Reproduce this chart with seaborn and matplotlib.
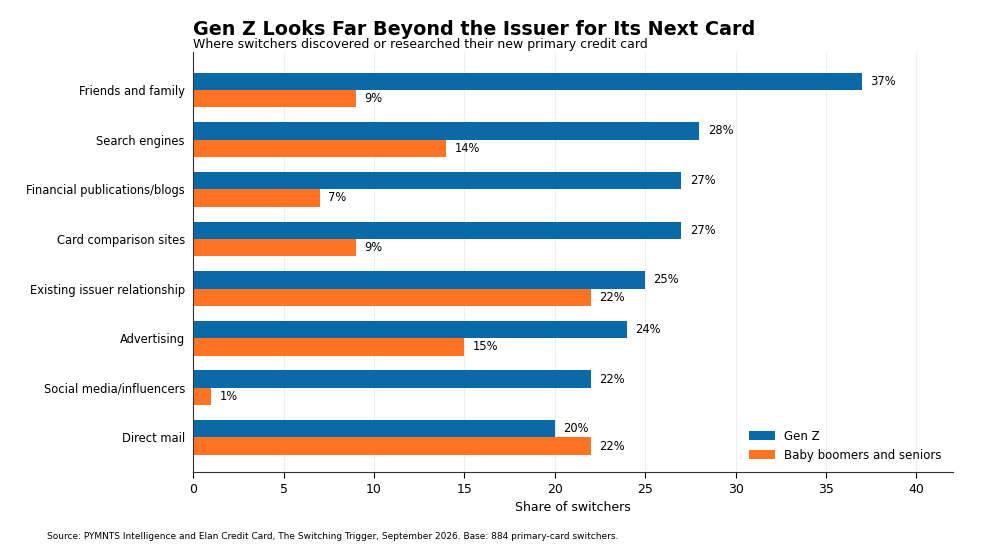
import pandas as pd
import matplotlib.pyplot as plt
import seaborn as sns

categories = ["Friends and family", "Search engines", "Financial publications/blogs",
              "Card comparison sites", "Existing issuer relationship", "Advertising",
              "Social media/influencers", "Direct mail"]
gen_z = [37, 28, 27, 27, 25, 24, 22, 20]
boomers = [9, 14, 7, 9, 22, 15, 1, 22]
groups = ["Gen Z", "Baby boomers and seniors"]

df = pd.DataFrame({
    "category": categories * 2,
    "value": gen_z + boomers,
    "group": [groups[0]] * len(categories) + [groups[1]] * len(categories),
})

sns.set_style("white")
plt.rcParams['font.family'] = ['DejaVu Sans']
plt.rcParams['text.color'] = 'black'
plt.rcParams['axes.labelcolor'] = 'black'
plt.rcParams['xtick.color'] = 'black'
plt.rcParams['ytick.color'] = 'black'

fig = plt.figure(figsize=(9.81, 5.51), dpi=100)
ax = fig.add_axes([0.197, 0.143, 0.774, 0.763])

sns.barplot(data=df, y="category", x="value", hue="group", orient="h",
            palette=["#0a6aa8", "#ff7322"], width=0.7, ax=ax, saturation=1,
            linewidth=0, gap=0)

for cont in ax.containers:
    ax.bar_label(cont, labels=[f"{v:.0f}%" for v in cont.datavalues], padding=6, fontsize=8.3)

ax.set_xlim(0, 42)
ax.set_ylim(7.7, -0.77)
ax.set_xticks(range(0, 45, 5))
ax.xaxis.grid(True, color="#eeeeee", linewidth=0.8)
ax.set_axisbelow(True)
ax.set_xlabel("Share of switchers", fontsize=9)
ax.set_ylabel("")
ax.tick_params(axis="y", labelsize=8.3, length=0, pad=6)
ax.tick_params(axis="x", labelsize=9, length=4, bottom=True)
for s in ["top", "right"]:
    ax.spines[s].set_visible(False)
for s in ["left", "bottom"]:
    ax.spines[s].set_color("#333333")
    ax.spines[s].set_linewidth(0.8)

ax.legend(loc="lower right", frameon=False, fontsize=8.5, handlelength=2.2,
          bbox_to_anchor=(1.0, 0.0))

fig.text(0.197, 0.937, "Gen Z Looks Far Beyond the Issuer for Its Next Card",
         fontsize=13.8, fontweight="bold")
fig.text(0.197, 0.912, "Where switchers discovered or researched their new primary credit card",
         fontsize=9)
fig.text(0.048, 0.022, "Source: PYMNTS Intelligence and Elan Credit Card, The Switching Trigger, "
         "September 2026. Base: 884 primary-card switchers.", fontsize=6.5)

fig.savefig("out.png", dpi=100)
